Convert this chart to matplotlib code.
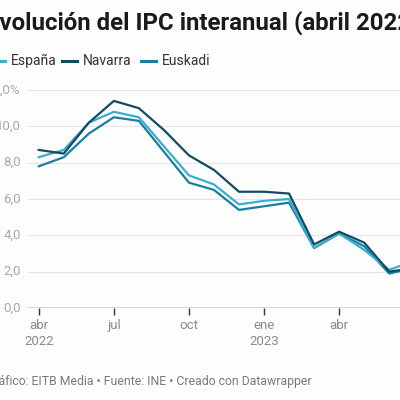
import numpy as np
import matplotlib
matplotlib.use("Agg")
from matplotlib import pyplot as plt

plt.rcParams['font.family'] = ['Roboto', 'DejaVu Sans']

# datos mensuales abr 2022 - jul 2023
meses = ["abr22", "may22", "jun22", "jul22", "ago22", "sep22", "oct22", "nov22",
         "dic22", "ene23", "feb23", "mar23", "abr23", "may23", "jun23", "jul23"]
espana = [8.3, 8.7, 10.2, 10.8, 10.5, 8.9, 7.3, 6.8, 5.7, 5.9, 6.0, 3.3, 4.1, 3.2, 2.1, 2.6]
navarra = [8.7, 8.5, 10.2, 11.4, 11.0, 9.8, 8.4, 7.6, 6.4, 6.4, 6.3, 3.5, 4.2, 3.6, 2.0, 2.2]
euskadi = [7.8, 8.3, 9.6, 10.5, 10.3, 8.6, 6.9, 6.5, 5.4, 5.6, 5.8, 3.3, 4.1, 3.4, 1.9, 2.2]

tick_pos = [0, 3, 6, 9, 12]
tick_labels = ["abr\n2022", "jul", "oct", "ene\n2023", "abr"]
y_ticks = [0, 2, 4, 6, 8, 10, 12]
y_labels = ["0,0", "2,0", "4,0", "6,0", "8,0", "10,0", "12,0%"]

colores = {"España": "#3aaed0", "Navarra": "#124b62", "Euskadi": "#1a7f9f"}

fondo = "#fdfdfe"
fig = plt.figure(figsize=(4, 4), dpi=100, facecolor=fondo)
ax = fig.add_axes([27 / 400, 92 / 400, 401 / 400, 218 / 400])
ax.set_facecolor(fondo)

x = np.arange(len(meses))
ax.plot(x, euskadi, color=colores["Euskadi"], lw=1.6, zorder=3)
ax.plot(x, espana, color=colores["España"], lw=1.6, zorder=4)
ax.plot(x, navarra, color=colores["Navarra"], lw=1.6, zorder=5)

ax.set_xlim(-0.47, 15.55)
ax.set_ylim(0, 12)

for s in ax.spines.values():
    s.set_visible(False)
ax.axhline(0, color="#333333", lw=1.0, zorder=2)
for v in y_ticks[1:]:
    ax.axhline(v, color="#e6e6e6", lw=0.8, zorder=1)

ax.set_yticks(y_ticks)
ax.set_yticklabels([])
ax.tick_params(axis="y", length=0)
for v, lab in zip(y_ticks, y_labels):
    # etiqueta alineada a la derecha, a la izquierda del eje
    ax.annotate(lab, xy=(0, v), xycoords=("figure fraction", "data"),
                xytext=(21 * 0.72, 0), textcoords="offset points",
                ha="right", va="center", fontsize=9.5, color="#a8a8a8",
                annotation_clip=False)

ax.set_xticks(tick_pos)
ax.set_xticklabels(tick_labels, fontsize=9.5, color="#8a8a8a", linespacing=1.3)
ax.tick_params(axis="x", length=5, width=1, color="#333333", pad=3)

fig.text(-14 / 400, 1 - 23 / 400, "Evolución del IPC interanual (abril 2022 - julio 2023)",
         fontsize=17.3, fontweight="bold", color="#1a1a1a", va="center", ha="left")

# leyenda manual
y_leg = 1 - 61 / 400
for nombre, x0 in [("España", -10), ("Navarra", 62), ("Euskadi", 141)]:
    fig.add_artist(plt.Line2D([x0 / 400, (x0 + 15) / 400], [y_leg, y_leg],
                              color=colores[nombre], lw=2.2, transform=fig.transFigure))
    fig.text((x0 + 21) / 400, y_leg, nombre, fontsize=10, color="#333333",
             va="center", ha="left")

fig.text(-14 / 400, 1 - 381 / 400,
         "Gráfico: EITB Media • Fuente: INE • Creado con Datawrapper",
         fontsize=8.8, color="#7a7a7a", va="center", ha="left")

fig.savefig("out.png", dpi=100, facecolor=fondo)
